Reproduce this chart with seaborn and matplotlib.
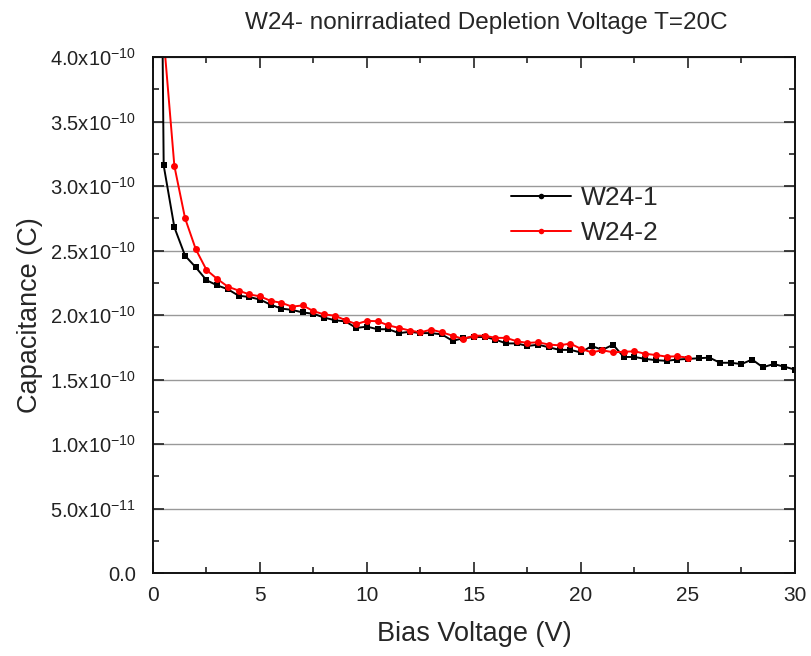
import numpy as np
import pandas as pd
import matplotlib
matplotlib.use("Agg")
import matplotlib.pyplot as plt
import seaborn as sns
from matplotlib.ticker import MultipleLocator, FuncFormatter

# ---- data (capacitance in units of 1e-10 F) ----
v1 = [i * 0.5 for i in range(0, 61)]
c1 = [12.0, 3.16, 2.68, 2.46, 2.37, 2.27, 2.23, 2.20, 2.15, 2.14,
      2.12, 2.08, 2.05, 2.04, 2.02, 2.01, 1.98, 1.96, 1.95, 1.90,
      1.91, 1.89, 1.89, 1.86, 1.87, 1.86, 1.86, 1.85, 1.80, 1.82,
      1.83, 1.83, 1.81, 1.78, 1.78, 1.76, 1.77, 1.75, 1.73, 1.73,
      1.71, 1.76, 1.73, 1.77, 1.675, 1.675, 1.66, 1.65, 1.645, 1.655,
      1.66, 1.665, 1.67, 1.63, 1.63, 1.62, 1.655, 1.595, 1.62, 1.60,
      1.577]
v2 = [i * 0.5 for i in range(1, 51)]
c2 = [4.15, 3.155, 2.75, 2.51, 2.35, 2.28, 2.22, 2.19, 2.16, 2.145,
      2.11, 2.095, 2.065, 2.075, 2.03, 2.005, 1.995, 1.96, 1.93, 1.955,
      1.952, 1.92, 1.90, 1.88, 1.866, 1.887, 1.866, 1.84, 1.815, 1.84,
      1.84, 1.823, 1.823, 1.797, 1.784, 1.789, 1.771, 1.765, 1.779, 1.738,
      1.711, 1.727, 1.711, 1.715, 1.719, 1.70, 1.69, 1.678, 1.68, 1.67]
labels = ["W24-1", "W24-2"]
colors = ["#000000", "#ff0000"]

scale = 1e-10
df1 = pd.DataFrame({"V": v1, "C": np.array(c1) * scale})
df2 = pd.DataFrame({"V": v2, "C": np.array(c2) * scale})

sns.set_style("ticks")
plt.rcParams["font.family"] = ["Liberation Sans", "DejaVu Sans"]
plt.rcParams["mathtext.fontset"] = "custom"
plt.rcParams["mathtext.rm"] = "Liberation Sans"
plt.rcParams["mathtext.it"] = "Liberation Sans"
plt.rcParams["mathtext.bf"] = "Liberation Sans"

fig = plt.figure(figsize=(8.12, 6.56), dpi=100)
ax = fig.add_axes([0.1884, 0.1265, 0.7906, 0.7865])

sns.lineplot(data=df1, x="V", y="C", ax=ax, color=colors[0], marker="s",
             markersize=5, markeredgewidth=0, linewidth=1.4, label=labels[0],
             sort=False)
sns.lineplot(data=df2, x="V", y="C", ax=ax, color=colors[1], marker="o",
             markersize=5, markeredgewidth=0, linewidth=1.4, label=labels[1],
             sort=False)

ax.set_xlim(0, 30)
ax.set_ylim(0, 4.0e-10)
ax.xaxis.set_major_locator(MultipleLocator(5))
ax.xaxis.set_minor_locator(MultipleLocator(2.5))
ax.yaxis.set_major_locator(MultipleLocator(0.5e-10))
ax.yaxis.set_minor_locator(MultipleLocator(0.25e-10))


def yfmt(v, pos):
    if abs(v) < 1e-15:
        return "0.0"
    exp = int(np.floor(np.log10(abs(v)) + 1e-9))
    mant = v / 10 ** exp
    return r"%.1fx10$^{\mathregular{%d}}$" % (mant, exp)


ax.yaxis.set_major_formatter(FuncFormatter(yfmt))
ax.yaxis.get_offset_text().set_visible(False)
ax.tick_params(which="both", direction="in", top=True, right=True,
               colors="#222222", width=1.2)
ax.tick_params(axis="y", labelsize=14.5, pad=12)
ax.tick_params(axis="x", labelsize=15, pad=9)
ax.tick_params(which="major", length=8)
ax.tick_params(which="minor", length=4.5)
for s in ax.spines.values():
    s.set_linewidth(1.4)
    s.set_color("#111111")

ax.grid(axis="y", which="major", color="#999999", linewidth=1.0)
ax.set_axisbelow(True)

ax.set_xlabel("Bias Voltage (V)", fontsize=19.5, labelpad=12)
ax.set_ylabel("Capacitance (C)", fontsize=19.5, labelpad=5)
ax.set_title("W24- nonirradiated Depletion Voltage T=20C", fontsize=17.5,
             pad=20, x=0.52)

leg = ax.legend(loc="center left", bbox_to_anchor=(0.52, 0.693), frameon=False,
                fontsize=19, handlelength=2.3, handletextpad=0.35,
                labelspacing=0.4)
for h in leg.legend_handles:
    h.set_marker("o")
    h.set_markersize(4)

fig.savefig("out.png", dpi=100)
